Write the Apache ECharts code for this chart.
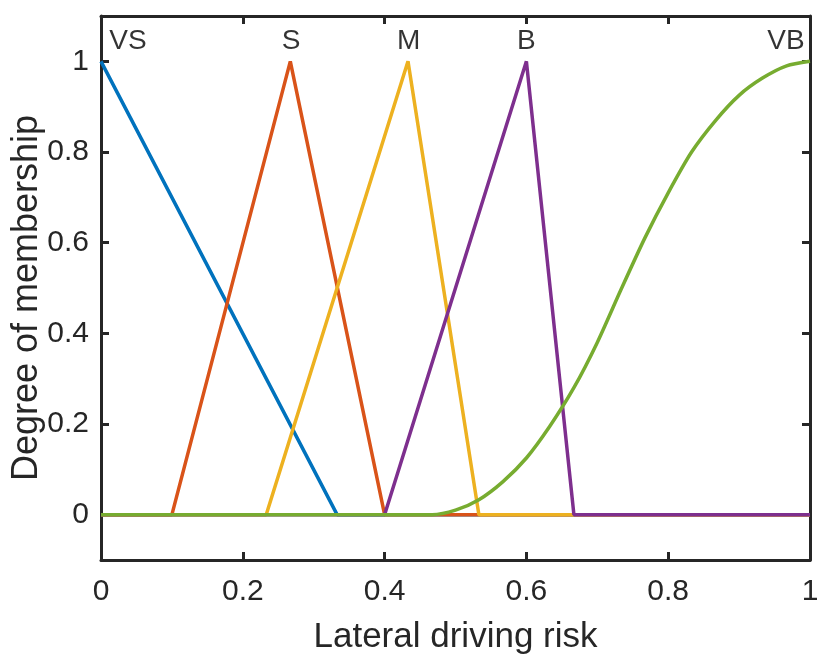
<!DOCTYPE html>
<html>
<head>
<meta charset="utf-8">
<script src="https://cdn.jsdelivr.net/npm/echarts@6/dist/echarts.min.js"></script>
<style>
  html, body { margin: 0; padding: 0; background: #fff; }
  #chart { width: 831px; height: 661px; }
</style>
</head>
<body>
<div id="chart"></div>
<script>
// membership functions, [x, degree]
var vs = [[0, 1], [0.333, 0], [1, 0]];
var s = [[0, 0], [0.1, 0], [0.267, 1], [0.4, 0], [1, 0]];
var m = [[0, 0], [0.233, 0], [0.433, 1], [0.533, 0], [1, 0]];
var b = [[0, 0], [0.4, 0], [0.6, 1], [0.667, 0], [1, 0]];
var vb = [[0, 0], [0.467, 0], [0.5, 0.01], [0.533, 0.033], [0.567, 0.073], [0.6, 0.125],
  [0.633, 0.195], [0.667, 0.28], [0.7, 0.38], [0.733, 0.495], [0.767, 0.61], [0.8, 0.71],
  [0.833, 0.8], [0.867, 0.87], [0.9, 0.925], [0.933, 0.963], [0.967, 0.99], [1, 1]];
var names = [[0.038, 1.044, 'VS'], [0.268, 1.044, 'S'], [0.434, 1.044, 'M'], [0.6, 1.044, 'B'], [0.966, 1.044, 'VB']];
var yTicks = [0, 0.2, 0.4, 0.6, 0.8, 1];

var chart = echarts.init(document.getElementById('chart'));
var ink = '#262626';
var font = 'Liberation Sans, Arial, sans-serif';

function fmt(v) { return String(+v.toFixed(1)); }

function axisX(pos, main) {
  return {
    type: 'value', position: pos, min: 0, max: 1, interval: 0.2,
    name: main ? 'Lateral driving risk' : '',
    nameLocation: 'middle', nameGap: 60, nameMoveOverlap: false,
    nameTextStyle: { color: ink, fontSize: 35, fontFamily: font },
    axisLine: { show: true, onZero: false, lineStyle: { color: ink, width: 3 } },
    axisTick: { show: true, inside: true, length: 8, lineStyle: { color: ink, width: 3 } },
    axisLabel: { show: main, color: ink, fontSize: 30, fontFamily: font, margin: 17, formatter: fmt },
    splitLine: { show: false }
  };
}
function axisY(pos, main) {
  return {
    type: 'value', position: pos, min: -0.1, max: 1.1,
    name: main ? 'Degree of membership' : '',
    nameLocation: 'middle', nameGap: 56, nameRotate: 90, nameMoveOverlap: false,
    nameTextStyle: { color: ink, fontSize: 36, fontFamily: font, padding: [0, 20, 0, 0] },
    axisLine: { show: true, onZero: false, lineStyle: { color: ink, width: 3 } },
    axisTick: { show: true, inside: true, length: 8, customValues: yTicks, lineStyle: { color: ink, width: 3 } },
    axisLabel: { show: main, color: ink, fontSize: 30, fontFamily: font, margin: 12, customValues: yTicks, formatter: fmt },
    splitLine: { show: false }
  };
}

function line(data, color) {
  return {
    type: 'line', data: data, showSymbol: false, symbol: 'none',
    lineStyle: { color: color, width: 3.5 }, itemStyle: { color: color }
  };
}

var vbLine = line(vb, '#77AC30');
vbLine.smooth = 0.25;

chart.setOption({
  animation: false,
  grid: { left: 101, right: 21, top: 16, bottom: 101, outerBoundsMode: 'none', containLabel: false },
  xAxis: [axisX('bottom', true), axisX('top', false)],
  yAxis: [axisY('left', true), axisY('right', false)],
  series: [
    line(vs, '#0072BD'),
    line(s, '#D95319'),
    line(m, '#EDB120'),
    line(b, '#7E2F8E'),
    vbLine,
    {
      type: 'scatter', symbolSize: 0, data: names,
      label: {
        show: true, position: 'inside', color: '#000', fontSize: 28, fontFamily: font,
        formatter: function (p) { return p.value[2]; }
      }
    }
  ]
});
</script>
</body>
</html>
